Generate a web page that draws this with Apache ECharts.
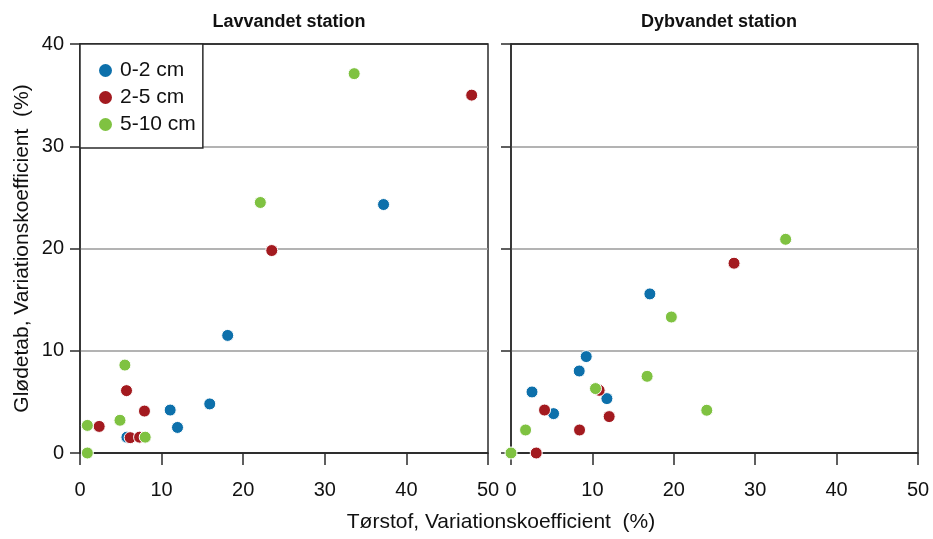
<!DOCTYPE html>
<html>
<head>
<meta charset="utf-8" />
<title>Glødetab vs tørstof</title>
<script src="https://cdn.jsdelivr.net/npm/echarts@6/dist/echarts.min.js"></script>
<style>
  html, body { margin: 0; padding: 0; background: #fff; }
  #chart { width: 933px; height: 539px; }
</style>
</head>
<body>
<div id="chart"></div>
<script>
// data: [tørstof CV, glødetab CV]
const seriesNames = ["0-2 cm", "2-5 cm", "5-10 cm"];
const panelTitles = ["Lavvandet station", "Dybvandet station"];
const xTicks = [0, 10, 20, 30, 40, 50];
const yTicks = [0, 10, 20, 30, 40];

// Lavvandet
const lav02 = [[37.2, 24.3], [18.1, 11.5], [11.05, 4.2], [15.9, 4.8], [11.95, 2.5], [5.75, 1.55]];
const lav25 = [[48, 35], [23.5, 19.8], [5.7, 6.1], [7.9, 4.1], [2.35, 2.6], [6.15, 1.5], [7.3, 1.55]];
const lav510 = [[33.6, 37.1], [22.1, 24.5], [5.5, 8.6], [4.9, 3.2], [0.9, 2.7], [7.99, 1.55], [0.9, 0]];

// Dybvandet
const dyb02 = [[17.06, 15.56], [9.24, 9.43], [8.38, 8.02], [2.58, 5.97], [11.78, 5.32], [5.23, 3.85]];
const dyb25 = [[27.4, 18.56], [10.83, 6.13], [4.12, 4.2], [12.06, 3.56], [8.42, 2.25], [3.1, 0]];
const dyb510 = [[33.74, 20.9], [19.7, 13.3], [16.72, 7.5], [10.38, 6.3], [24.05, 4.18], [1.79, 2.25], [0, 0]];

const colors = ["#0d70ab", "#a31a1f", "#7fc241"];
const font = "'Liberation Sans', Arial, Helvetica, sans-serif";
const frameColor = "#2b2b2b";

const chart = echarts.init(document.getElementById("chart"));

const makeX = (gridIndex) => ({
  type: "value",
  gridIndex,
  min: xTicks[0],
  max: xTicks[xTicks.length - 1],
  interval: 10,
  axisLine: { show: true, onZero: false, lineStyle: { color: frameColor, width: 1.5 } },
  axisTick: { show: true, length: 12, lineStyle: { color: frameColor, width: 1.5 } },
  axisLabel: { color: "#111", fontSize: 20, fontFamily: font, margin: 27 },
  splitLine: { show: false },
});

const makeY = (gridIndex, showLabels) => ({
  type: "value",
  gridIndex,
  min: yTicks[0],
  max: yTicks[yTicks.length - 1],
  interval: 10,
  name: showLabels ? "Glødetab, Variationskoefficient  (%)" : "",
  nameLocation: "middle",
  nameGap: 47,
  nameTextStyle: { color: "#111", fontSize: 21, fontFamily: font },
  axisLine: { show: true, onZero: false, lineStyle: { color: frameColor, width: 1.5 } },
  axisTick: { show: true, length: 10, lineStyle: { color: frameColor, width: 1.5 } },
  axisLabel: { show: showLabels, color: "#111", fontSize: 20, fontFamily: font, margin: 16 },
  splitLine: {
    show: true,
    lineStyle: { color: [frameColor, "#9a9a9a", "#9a9a9a", "#9a9a9a", frameColor], width: 1.5 },
  },
});

const makeSeries = (name, data, i, idx) => ({
  name,
  type: "scatter",
  xAxisIndex: idx,
  yAxisIndex: idx,
  data,
  clip: false,
  symbol: "circle",
  symbolSize: 12,
  itemStyle: { color: colors[i], opacity: 1, borderColor: "#fff", borderWidth: 1 },
});

chart.setOption({
  animation: false,
  backgroundColor: "#fff",
  title: [
    {
      text: panelTitles[0],
      left: 284,
      top: 8,
      textAlign: "center",
      textStyle: { fontSize: 18, fontWeight: "bold", color: "#111", fontFamily: font },
    },
    {
      text: panelTitles[1],
      left: 714,
      top: 8,
      textAlign: "center",
      textStyle: { fontSize: 18, fontWeight: "bold", color: "#111", fontFamily: font },
    },
  ],
  grid: [
    { left: 80, right: 445, top: 44, bottom: 86, show: true, borderColor: frameColor, borderWidth: 1.5 },
    { left: 511, right: 15, top: 44, bottom: 86, show: true, borderColor: frameColor, borderWidth: 1.5 },
  ],
  legend: {
    data: seriesNames,
    orient: "vertical",
    left: 80,
    top: 44,
    padding: [16, 7, 13, 19],
    itemWidth: 13,
    itemHeight: 13,
    itemGap: 6,
    icon: "circle",
    backgroundColor: "#fff",
    borderColor: frameColor,
    borderWidth: 1.5,
    itemStyle: { opacity: 1, borderWidth: 0 },
    textStyle: { fontSize: 21, lineHeight: 20, color: "#111", fontFamily: font, padding: [0, 0, 0, 3] },
    z: 10,
  },
  xAxis: [makeX(0), makeX(1)],
  yAxis: [makeY(0, true), makeY(1, false)],
  graphic: [
    {
      type: "text",
      x: 501,
      y: 522,
      style: {
        text: "Tørstof, Variationskoefficient  (%)",
        fill: "#111",
        font: "21px " + font,
        textAlign: "center",
        textVerticalAlign: "middle",
      },
    },
  ],
  series: [
    makeSeries(seriesNames[0], lav02, 0, 0),
    makeSeries(seriesNames[1], lav25, 1, 0),
    makeSeries(seriesNames[2], lav510, 2, 0),
    makeSeries(seriesNames[0], dyb02, 0, 1),
    makeSeries(seriesNames[1], dyb25, 1, 1),
    makeSeries(seriesNames[2], dyb510, 2, 1),
  ],
});
</script>
</body>
</html>
